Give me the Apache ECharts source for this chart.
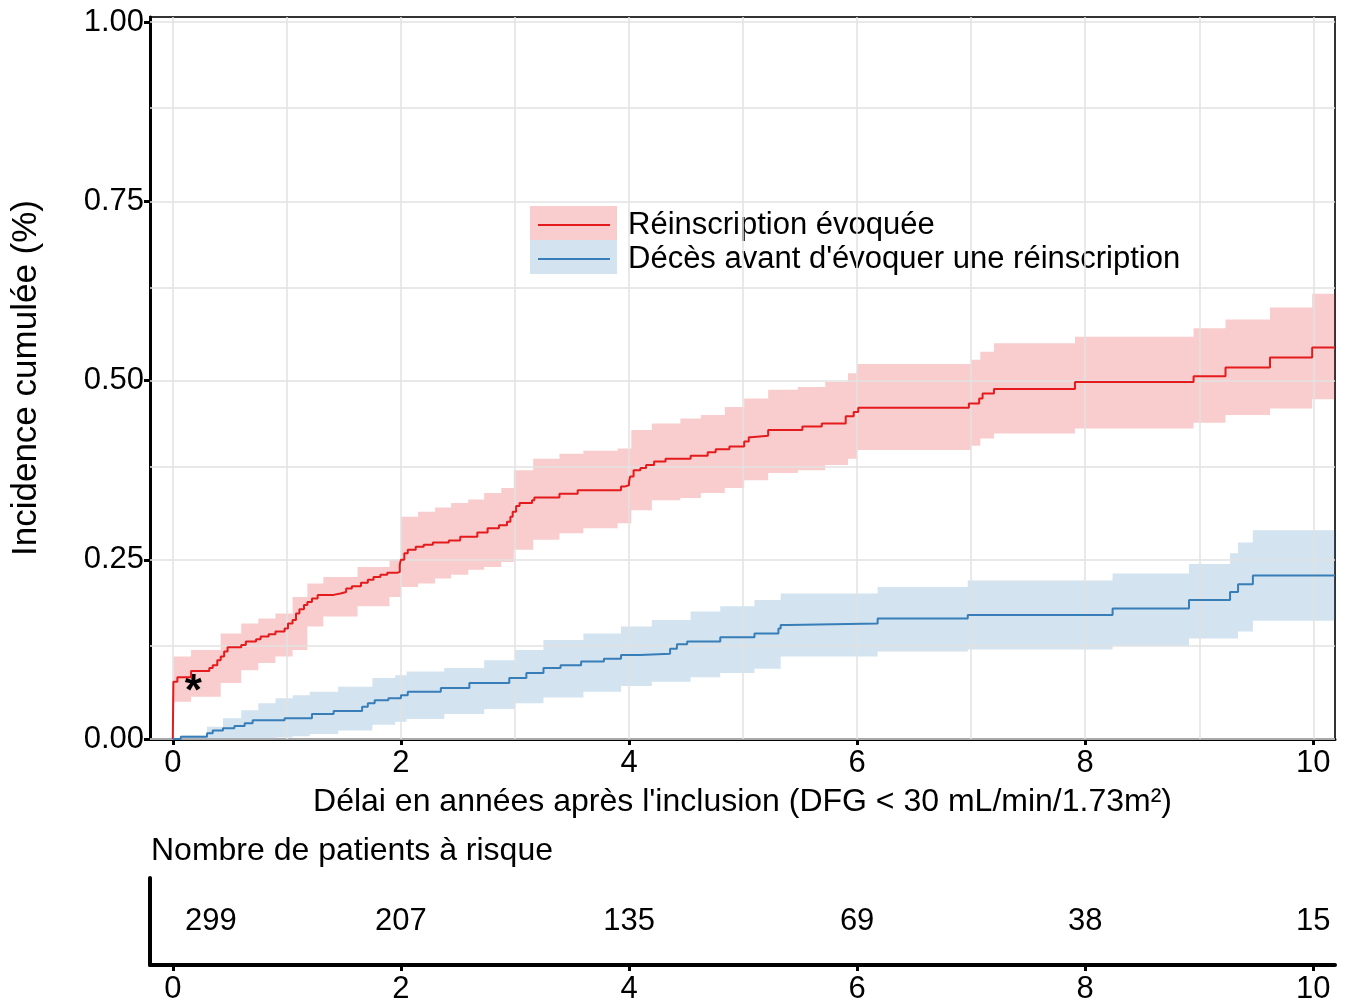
<!DOCTYPE html>
<html><head><meta charset="utf-8">
<script src="https://cdn.jsdelivr.net/npm/echarts@6/dist/echarts.min.js"></script>
<style>html,body{margin:0;padding:0;background:#fff}#c{width:1346px;height:1005px}</style>
</head><body><div id="c"></div>
<script>
// ---- tick / grid values ----
const xTicks = [0, 2, 4, 6, 8, 10];
const yTicks = [0, 0.25, 0.5, 0.75, 1];
const xGridLines = [0, 1, 2, 3, 4, 5, 6, 7, 8, 9, 10];
const yGridLines = [0, 0.125, 0.25, 0.375, 0.5, 0.625, 0.75, 0.875, 1];

// ---- series names ----
const nameRe = 'Réinscription évoquée';
const nameDc = "Décès avant d'évoquer une réinscription";

// ---- Réinscription évoquée: step curve [time, cumulative incidence] ----
const reCurve = [
  [0,0],[0.005,0.080],[0.04,0.086],[0.16,0.095],[0.32,0.099],[0.35,0.103],[0.39,0.110],[0.42,0.115],
  [0.45,0.122],[0.48,0.128],[0.60,0.131],[0.64,0.136],[0.73,0.139],[0.77,0.143],[0.84,0.146],[0.90,0.150],
  [0.98,0.154],[1.01,0.161],[1.05,0.166],[1.08,0.175],[1.11,0.181],[1.15,0.187],[1.18,0.191],[1.22,0.196],
  [1.27,0.201],[1.41,0.203],[1.47,0.205],[1.52,0.210],[1.57,0.213],[1.65,0.218],[1.71,0.222],[1.76,0.226],
  [1.82,0.229],[1.88,0.232],[1.97,0.233],[1.99,0.243],[2.00,0.250],[2.03,0.259],[2.06,0.264],[2.13,0.268],
  [2.20,0.271],[2.28,0.274],[2.42,0.277],[2.52,0.282],[2.67,0.288],[2.76,0.294],[2.86,0.298],[2.93,0.303],
  [2.96,0.310],[2.98,0.317],[3.01,0.325],[3.04,0.329],[3.15,0.333],[3.17,0.337],[3.39,0.342],[3.55,0.347],
  [3.93,0.352],[3.96,0.354],[4.00,0.359],[4.01,0.366],[4.04,0.375],[4.10,0.378],[4.15,0.382],[4.22,0.387],
  [4.32,0.391],[4.54,0.395],[4.69,0.400],[4.76,0.404],[4.88,0.408],[5.01,0.415],[5.05,0.421],[5.07,0.423],
  [5.22,0.431],[5.52,0.436],[5.69,0.440],[5.90,0.450],[5.97,0.456],[6.01,0.462],[6.98,0.468],[7.07,0.475],
  [7.10,0.482],[7.20,0.488],[7.91,0.498],[8.95,0.506],[9.23,0.518],[9.62,0.532],[9.99,0.546],[10.19,0.546]
];
// confidence band [time, lower, upper]
const reBand = [
  [0.005,0.052,0.115],[0.16,0.059,0.124],[0.42,0.078,0.147],[0.60,0.096,0.161],[0.75,0.106,0.168],
  [0.90,0.115,0.175],[1.05,0.124,0.198],[1.18,0.157,0.217],[1.32,0.171,0.226],[1.62,0.185,0.240],
  [1.90,0.198,0.250],[2.00,0.212,0.310],[2.15,0.217,0.317],[2.30,0.224,0.323],[2.44,0.229,0.329],
  [2.59,0.236,0.334],[2.73,0.240,0.343],[2.88,0.247,0.350],[2.99,0.264,0.375],[3.16,0.278,0.391],
  [3.39,0.287,0.398],[3.60,0.294,0.402],[3.90,0.301,0.405],[4.02,0.319,0.431],[4.20,0.333,0.440],
  [4.45,0.336,0.447],[4.63,0.343,0.452],[4.84,0.350,0.463],[5.01,0.361,0.475],[5.22,0.371,0.487],
  [5.48,0.375,0.491],[5.72,0.382,0.498],[5.92,0.391,0.510],[6.00,0.403,0.523],[7.00,0.409,0.529],
  [7.08,0.419,0.540],[7.20,0.426,0.552],[7.91,0.433,0.561],[8.95,0.441,0.573],[9.23,0.452,0.585],
  [9.62,0.461,0.602],[9.99,0.474,0.621],[10.19,0.474,0.621]
];

// ---- Décès avant d'évoquer une réinscription ----
const dcCurve = [
  [0,0],[0.07,0.003],[0.30,0.008],[0.35,0.012],[0.44,0.015],[0.54,0.018],[0.63,0.022],[0.70,0.026],
  [0.98,0.029],[1.22,0.035],[1.41,0.039],[1.66,0.045],[1.71,0.050],[1.77,0.054],[1.89,0.057],[2.00,0.061],
  [2.06,0.066],[2.35,0.071],[2.60,0.078],[2.95,0.085],[3.10,0.092],[3.25,0.099],[3.40,0.103],[3.58,0.108],
  [3.78,0.112],[3.93,0.117],[4.10,0.119],[4.36,0.126],[4.42,0.132],[4.51,0.136],[4.80,0.142],[5.10,0.147],
  [5.31,0.154],[5.33,0.159],[5.40,0.161],[6.18,0.168],[6.97,0.173],[8.24,0.182],[8.91,0.194],[9.27,0.205],
  [9.34,0.216],[9.47,0.228],[10.19,0.228]
];
const dcBand = [
  [0.07,0,0.005],[0.30,0,0.017],[0.44,0,0.029],[0.60,0,0.040],[0.75,0,0.050],[0.90,0.002,0.057],
  [1.05,0.004,0.061],[1.20,0.007,0.066],[1.45,0.012,0.073],[1.75,0.020,0.085],[1.95,0.024,0.089],
  [2.05,0.028,0.094],[2.38,0.035,0.099],[2.73,0.042,0.110],[3.00,0.050,0.124],[3.25,0.058,0.138],
  [3.60,0.066,0.147],[3.93,0.074,0.157],[4.20,0.080,0.166],[4.54,0.086,0.178],[4.80,0.092,0.185],
  [5.10,0.098,0.194],[5.33,0.115,0.203],[6.18,0.122,0.212],[6.97,0.125,0.221],[8.24,0.130,0.231],
  [8.91,0.140,0.244],[9.27,0.140,0.259],[9.34,0.150,0.274],[9.47,0.165,0.291],[10.19,0.165,0.291]
];

// ---- number at risk ----
const riskTimes = [0, 2, 4, 6, 8, 10];
const riskCounts = [299, 207, 135, 69, 38, 15];

// ---- annotation (data coordinates) ----
const asteriskAt = [0.18, 0.064];

// ---- texts ----
const xTitle = "Délai en années après l'inclusion (DFG < 30 mL/min/1.73m²)";
const yTitle = 'Incidence cumulée (%)';
const riskTitle = 'Nombre de patients à risque';

// ---- styles ----
const RED = '#e41a1c', BLUE = '#377eb8';
const RED_FILL = 'rgba(228,26,28,0.22)', BLUE_FILL = 'rgba(55,126,184,0.22)';
const FONT = 'Liberation Sans, Arial, sans-serif';

// step-shaped confidence band drawn as one polygon through the axis scales
function bandSeries(band, fill, key) {
  return {
    name: key, type: 'custom', silent: true, z: 2, clip: true,
    data: [[band[0][0], band[0][1]]],
    renderItem: function (params, api) {
      const up = [], lo = [];
      for (let i = 0; i < band.length; i++) {
        up.push(api.coord([band[i][0], band[i][2]]));
        lo.push(api.coord([band[i][0], band[i][1]]));
        if (i < band.length - 1) {
          up.push(api.coord([band[i + 1][0], band[i][2]]));
          lo.push(api.coord([band[i + 1][0], band[i][1]]));
        }
      }
      return { type: 'polygon', shape: { points: up.concat(lo.reverse()) }, style: { fill: fill } };
    }
  };
}

const chart = echarts.init(document.getElementById('c'), null, { renderer: 'canvas' });
const option = {
  animation: false,
  textStyle: { fontFamily: FONT },
  title: { text: riskTitle, left: 146, top: 830,
    textStyle: { fontSize: 32, fontWeight: 'normal', color: '#000', fontFamily: FONT } },
  grid: [
    { left: 150, right: 11, top: 17, height: 722, show: true, borderColor: '#333', borderWidth: 2, backgroundColor: '#fff' },
    { left: 150, right: 11, top: 878, height: 96 }
  ],
  legend: [
    { orient: 'vertical', left: 530, top: 206, padding: 0, itemWidth: 87, itemHeight: 34, itemGap: 0, selectedMode: false, z: 3,
      data: [
        { name: nameRe, icon: 'rect', itemStyle: { color: RED_FILL } },
        { name: nameDc, icon: 'rect', itemStyle: { color: BLUE_FILL } }
      ],
      textStyle: { fontSize: 31, lineHeight: 34, color: 'rgba(0,0,0,0)', padding: [0, 0, 0, 6] } },
    { orient: 'vertical', left: 538, top: 208, padding: 0, itemWidth: 72, itemHeight: 2, itemGap: 0, selectedMode: false, z: 4,
      data: [
        { name: nameRe, icon: 'rect', itemStyle: { color: RED } },
        { name: nameDc, icon: 'rect', itemStyle: { color: BLUE } }
      ],
      textStyle: { fontSize: 31, lineHeight: 34, color: '#000', padding: [0, 0, 0, 13] } }
  ],
  xAxis: [
    { type: 'value', gridIndex: 0, min: -0.2, max: 10.19,
      axisLine: { show: true, onZero: false, lineStyle: { color: '#000', width: 3 } },
      axisTick: { show: true, customValues: xTicks, length: 6, lineStyle: { color: '#000', width: 3 } },
      axisLabel: { customValues: xTicks, fontSize: 31, color: '#000', margin: 9 },
      splitLine: { show: false },
      name: xTitle, nameLocation: 'middle', nameGap: 47,
      nameTextStyle: { fontSize: 32, color: '#000' } },
    { type: 'value', gridIndex: 1, min: -0.2, max: 10.19,
      axisLine: { show: true, onZero: false, lineStyle: { color: '#000', width: 4 } },
      axisTick: { show: true, customValues: xTicks, length: 6, lineStyle: { color: '#000', width: 3 } },
      axisLabel: { customValues: xTicks, fontSize: 31, color: '#000', margin: 9 },
      splitLine: { show: false } }
  ],
  yAxis: [
    { type: 'value', gridIndex: 0, min: 0, max: 1.007,
      axisLine: { show: true, onZero: false, lineStyle: { color: '#000', width: 3 } },
      axisTick: { show: true, customValues: yTicks, length: 6, lineStyle: { color: '#000', width: 3 } },
      axisLabel: { customValues: yTicks, fontSize: 31, color: '#000', margin: 6, formatter: v => v.toFixed(2) },
      splitLine: { show: false },
      name: yTitle, nameLocation: 'middle', nameGap: 106,
      nameTextStyle: { fontSize: 35, color: '#000' } },
    { type: 'value', gridIndex: 1, min: 0, max: 1,
      axisLine: { show: true, onZero: false, lineStyle: { color: '#000', width: 4 } },
      axisTick: { show: false }, axisLabel: { show: false }, splitLine: { show: false } }
  ],
  series: [
    { name: 'grid', type: 'line', data: [[0, 0]], symbol: 'none', lineStyle: { opacity: 0 }, silent: true, z: 1,
      markLine: { silent: true, symbol: ['none', 'none'], label: { show: false }, animation: false,
        lineStyle: { color: '#e2e2e2', width: 1.5, type: 'solid' },
        data: xGridLines.map(v => ({ xAxis: v })).concat(yGridLines.map(v => ({ yAxis: v }))) } },
    bandSeries(reBand, RED_FILL, 'reBand'),
    bandSeries(dcBand, BLUE_FILL, 'dcBand'),
    { name: nameRe, type: 'line', step: 'end', symbol: 'none', data: reCurve, z: 5,
      lineStyle: { color: RED, width: 2 }, itemStyle: { color: RED },
      markPoint: { symbol: 'circle', symbolSize: 1, itemStyle: { color: 'rgba(0,0,0,0)' },
        label: { show: true, position: 'inside', formatter: '*', fontSize: 44, fontWeight: 'bold', color: '#000' },
        data: [{ coord: asteriskAt }] } },
    { name: nameDc, type: 'line', step: 'end', symbol: 'none', data: dcCurve, z: 5,
      lineStyle: { color: BLUE, width: 2 }, itemStyle: { color: BLUE } },
    { name: 'risk', type: 'scatter', xAxisIndex: 1, yAxisIndex: 1, symbol: 'rect', symbolSize: 0.5,
      itemStyle: { color: '#fff', opacity: 1 }, silent: true,
      label: { show: true, position: 'inside', fontSize: 31, color: '#000', opacity: 1, formatter: p => String(p.value[2]) },
      data: riskTimes.map((t, i) => ({ value: [t, 0.5, riskCounts[i]], label: i === 0 ? { offset: [38, 0] } : undefined })) }
  ]
};
chart.setOption(option);
</script>
</body></html>
